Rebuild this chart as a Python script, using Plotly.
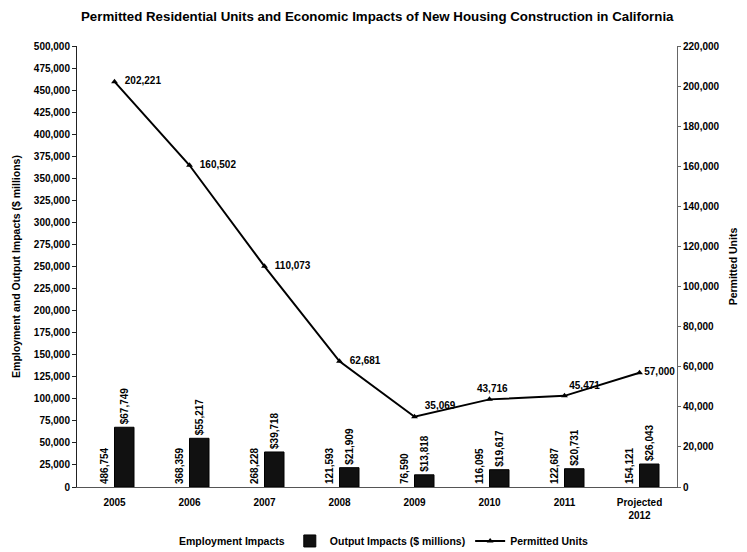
import plotly.graph_objects as go

# Housing construction data, California
years = ["2005", "2006", "2007", "2008", "2009", "2010", "2011", "Projected<br>2012"]
employment_impacts = [486754, 368359, 268228, 121593, 76590, 116095, 122687, 154121]
output_impacts = [67749, 55217, 39718, 21909, 13818, 19617, 20731, 26043]
permitted_units = [202221, 160502, 110073, 62681, 35069, 43716, 45471, 57000]

left_ticks = list(range(0, 500001, 25000))
right_ticks = list(range(0, 220001, 20000))

FONT = "Liberation Sans, Arial, sans-serif"

# label placement around the permitted-units markers
unit_label_pos = ["middle right", "middle right", "middle right", "middle right",
                  "top right", "top center", "top right", "middle right"]
unit_label_pad = ["  ", "  ", "  ", "  ", "  ", "  ", "", ""]

fig = go.Figure()

fig.add_trace(go.Bar(
    x=years, y=employment_impacts, name="Employment Impacts",
    marker=dict(color="white", line=dict(width=0)),
    text=[f"{v:,}" for v in employment_impacts],
    textposition="inside", insidetextanchor="start", textangle=-90,
    textfont=dict(family=FONT, size=10, color="black", weight="bold"),
    constraintext="none",
))

fig.add_trace(go.Bar(
    x=years, y=output_impacts, name="Output Impacts ($ millions)",
    marker=dict(color="#111111", line=dict(color="#000000", width=1)),
    text=[f"${v:,}" for v in output_impacts],
    textposition="outside", textangle=-90,
    textfont=dict(family=FONT, size=10, color="black", weight="bold"),
    constraintext="none", cliponaxis=False,
))

fig.add_trace(go.Scatter(
    x=years, y=permitted_units, name="Permitted Units", yaxis="y2",
    mode="lines+markers+text",
    line=dict(color="black", width=2),
    marker=dict(symbol="triangle-up", size=6, color="black"),
    text=[p + f"{v:,}" for p, v in zip(unit_label_pad, permitted_units)],
    textposition=unit_label_pos,
    textfont=dict(family=FONT, size=10, color="black", weight="bold"),
    cliponaxis=False,
))

fig.update_layout(
    width=747, height=552,
    margin=dict(l=77, r=70, t=46, b=65, autoexpand=False),
    paper_bgcolor="white", plot_bgcolor="white",
    font=dict(family=FONT, size=10, color="black", weight="bold"),
    title=dict(
        text="Permitted Residential Units and Economic Impacts of New Housing Construction in California",
        xref="container", x=0.505, xanchor="center",
        yref="container", y=0.971, yanchor="middle",
        font=dict(family=FONT, size=13.3, color="black", weight="bold"),
    ),
    barmode="group", bargap=0.48, bargroupgap=0,
    showlegend=True,
    legend=dict(
        orientation="h", xref="container", x=0.49, xanchor="center",
        yref="container", y=0.02, yanchor="middle",
        font=dict(family=FONT, size=10.5, color="black", weight="bold"),
        itemwidth=30, tracegroupgap=0,
    ),
    xaxis=dict(
        showline=True, linecolor="#555555", linewidth=1,
        showgrid=False, ticks="", tickfont=dict(size=10, weight="bold"),
        ticklabelstandoff=6, automargin=False,
    ),
    yaxis=dict(
        range=[0, 500000], tickvals=left_ticks,
        ticktext=[f"{v:,}" for v in left_ticks],
        showline=True, linecolor="#222222", linewidth=1,
        ticks="outside", ticklen=4, tickcolor="#222222",
        showgrid=False, zeroline=False, automargin=False,
        tickfont=dict(size=10, weight="bold"),
        title=dict(text="Employment and Output Impacts ($ millions)",
                   font=dict(size=10.5, weight="bold"), standoff=11),
    ),
    yaxis2=dict(
        range=[0, 220000], tickvals=right_ticks,
        ticktext=[f"{v:,}" for v in right_ticks],
        overlaying="y", side="right",
        showline=True, linecolor="#666666", linewidth=1,
        ticks="outside", ticklen=3, tickcolor="#666666",
        showgrid=False, zeroline=False, automargin=False,
        tickfont=dict(size=10, weight="bold"),
        title=dict(text="Permitted Units",
                   font=dict(size=10.5, weight="bold"), standoff=11),
    ),
)

fig.write_html("out.html")
